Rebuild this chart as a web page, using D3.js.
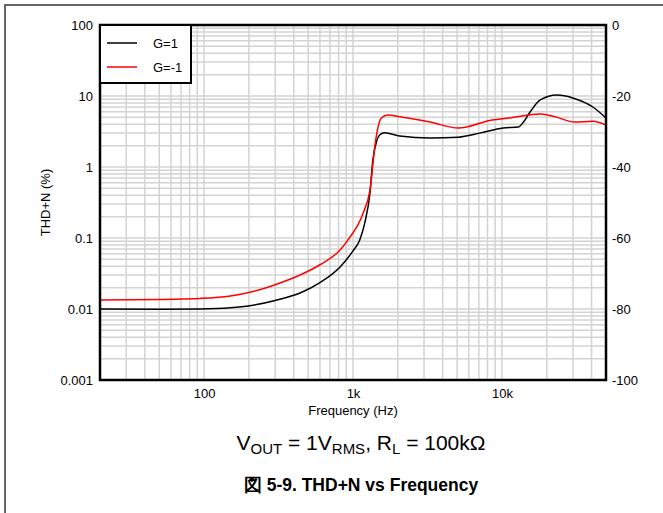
<!DOCTYPE html>
<html><head><meta charset="utf-8">
<script src="https://cdn.jsdelivr.net/npm/d3@7/dist/d3.min.js"></script>
<style>body{margin:0;background:#fff}svg{display:block}text{font-family:"Liberation Sans",Arial,sans-serif}</style>
</head><body><svg id="c" width="663" height="513"></svg>
<script>
const seriesNames = ["G=1", "G=-1"];
const seriesColors = ["#000000", "#ff0000"];
const freqG1 = [20, 50, 94, 150, 203, 300, 441, 600, 819, 1000, 1110, 1200, 1300, 1360, 1440, 1510, 1630, 2060, 3300, 5100, 7100, 10200, 12900, 13800, 15300, 18100, 23400, 29900, 40800, 50000];
const thdG1 = [0.0100, 0.0099, 0.0100, 0.0104, 0.0111, 0.0132, 0.0168, 0.0235, 0.039, 0.066, 0.094, 0.163, 0.43, 1.26, 2.3, 2.82, 3.03, 2.74, 2.57, 2.63, 3.0, 3.55, 3.65, 4.17, 5.75, 8.8, 10.3, 9.4, 7.0, 4.9];
const freqGm1 = [20, 50, 94, 150, 203, 300, 441, 600, 819, 925, 1170, 1300, 1420, 1550, 1710, 2060, 3300, 5100, 8600, 11200, 18100, 23400, 30800, 40800, 50000];
const thdGm1 = [0.0134, 0.0136, 0.0141, 0.0153, 0.0172, 0.022, 0.0301, 0.042, 0.0678, 0.094, 0.225, 0.474, 2.4, 4.9, 5.4, 5.1, 4.3, 3.54, 4.6, 4.9, 5.6, 5.0, 4.3, 4.4, 3.9];
const xTickVals = [100, 1000, 10000];
const xTickLabels = ["100", "1k", "10k"];
const yTickVals = [100, 10, 1, 0.1, 0.01, 0.001];
const yTickLabels = ["100", "10", "1", "0.1", "0.01", "0.001"];
const y2TickVals = [0, -20, -40, -60, -80, -100];
const y2TickLabels = ["0", "-20", "-40", "-60", "-80", "-100"];

const svg = d3.select("#c");
svg.append("rect").attr("width",663).attr("height",513).attr("fill","#fff");
// page frame
svg.append("line").attr("x1",5).attr("x2",5).attr("y1",5).attr("y2",513).attr("stroke","#666").attr("stroke-width",2);
svg.append("line").attr("x1",4).attr("x2",663).attr("y1",5).attr("y2",5).attr("stroke","#666").attr("stroke-width",2);

const L=100,R=606,T=25,B=380;
const x = d3.scaleLog().domain([20,50000]).range([L,R]);
const y = d3.scaleLog().domain([0.001,100]).range([B,T]);
const y2 = d3.scaleLinear().domain([-100,0]).range([B,T]);

// grid
const g = svg.append("g");
const xGrid = [];
[10,100,1000,10000].forEach(d=>{for(let k=1;k<10;k++){const v=d*k; if(v>20&&v<50000) xGrid.push(v);}});
g.selectAll(".vx").data(xGrid).join("line").attr("x1",d=>x(d)).attr("x2",d=>x(d)).attr("y1",T).attr("y2",B)
  .attr("stroke","#d3d3d3").attr("stroke-width",1.5);
const yGrid = [];
[0.001,0.01,0.1,1,10].forEach(d=>{for(let k=1;k<10;k++){const v=d*k; if(v>0.001*1.0001) yGrid.push(v);}});
g.selectAll(".hy").data(yGrid).join("line").attr("x1",L).attr("x2",R).attr("y1",d=>y(d)).attr("y2",d=>y(d))
  .attr("stroke","#d3d3d3").attr("stroke-width",1.5);

// lines
svg.append("clipPath").attr("id","clip").append("rect").attr("x",L).attr("y",T).attr("width",R-L).attr("height",B-T);
const line = d3.line().x(d=>x(d[0])).y(d=>y(d[1])).curve(d3.curveMonotoneX);
const dG1 = freqG1.map((f,i)=>[f,thdG1[i]]);
const dGm1 = freqGm1.map((f,i)=>[f,thdGm1[i]]);
svg.append("path").attr("d",line(dG1)).attr("fill","none").attr("stroke",seriesColors[0]).attr("stroke-width",1.5).attr("clip-path","url(#clip)");
svg.append("path").attr("d",line(dGm1)).attr("fill","none").attr("stroke",seriesColors[1]).attr("stroke-width",1.5).attr("clip-path","url(#clip)");

// border
svg.append("rect").attr("x",L).attr("y",T).attr("width",R-L).attr("height",B-T).attr("fill","none").attr("stroke","#000").attr("stroke-width",2.5);

// axes
const fs = 13;
const xAx = svg.append("g").attr("transform",`translate(0,${B})`)
  .call(d3.axisBottom(x).tickValues(xTickVals).tickFormat((d,i)=>xTickLabels[i]).tickSize(0).tickPadding(9));
const yAx = svg.append("g").attr("transform",`translate(${L},0)`)
  .call(d3.axisLeft(y).tickValues(yTickVals).tickFormat((d,i)=>yTickLabels[i]).tickSize(0).tickPadding(7));
const y2Ax = svg.append("g").attr("transform",`translate(${R},0)`)
  .call(d3.axisRight(y2).tickValues(y2TickVals).tickFormat((d,i)=>y2TickLabels[i]).tickSize(0).tickPadding(6));
[xAx,yAx,y2Ax].forEach(a=>{a.select(".domain").remove(); a.selectAll("text").attr("font-size",fs).attr("fill","#000").attr("font-family","Liberation Sans, Arial, sans-serif");});

svg.append("text").attr("x",(L+R)/2).attr("y",415).attr("text-anchor","middle").attr("font-size",13).text("Frequency (Hz)");
svg.append("text").attr("transform",`translate(50,${(T+B)/2}) rotate(-90)`).attr("text-anchor","middle").attr("font-size",13).text("THD+N (%)");

// legend
const lg = svg.append("g");
lg.append("rect").attr("x",L).attr("y",T).attr("width",91).attr("height",58).attr("fill","#fff").attr("stroke","#000").attr("stroke-width",2);
seriesNames.forEach((n,i)=>{
  const yy = 43 + i*24;
  lg.append("line").attr("x1",107).attr("x2",137).attr("y1",yy).attr("y2",yy).attr("stroke",seriesColors[i]).attr("stroke-width",1.5);
  lg.append("text").attr("x",153).attr("y",yy+5).attr("font-size",13).text(n);
});

// captions
const sub = svg.append("text").attr("x",361).attr("y",450).attr("text-anchor","middle").attr("font-size",21);
sub.append("tspan").text("V");
sub.append("tspan").attr("font-size",15).attr("dy",4).text("OUT");
sub.append("tspan").attr("dy",-4).text(" = 1V");
sub.append("tspan").attr("font-size",15).attr("dy",4).text("RMS");
sub.append("tspan").attr("dy",-4).text(", R");
sub.append("tspan").attr("font-size",15).attr("dy",4).text("L");
sub.append("tspan").attr("dy",-4).text(" = 100kΩ");
svg.append("text").attr("x",361).attr("y",491).attr("text-anchor","middle").attr("font-size",17.5).attr("font-weight","bold").text("図 5-9. THD+N vs Frequency");
</script></body></html>
